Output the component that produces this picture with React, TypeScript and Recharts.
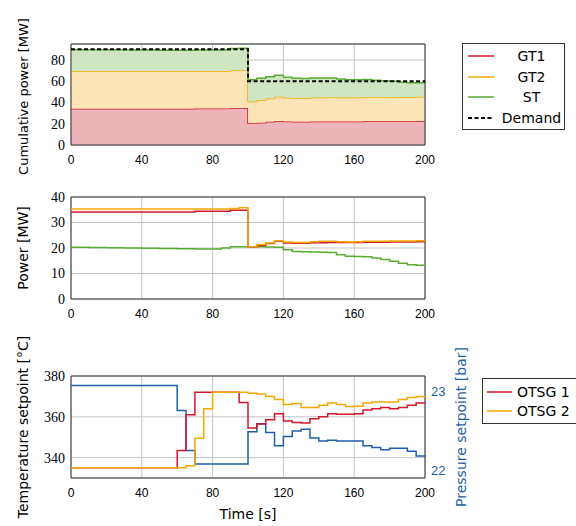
import React from 'react'
import {ComposedChart, Area, Line, XAxis, YAxis, CartesianGrid, ReferenceArea, Legend, Label} from 'recharts'

// time axis [s], 5 s steps
const time = [0, 5, 10, 15, 20, 25, 30, 35, 40, 45, 50, 55, 60, 65, 70, 75, 80, 85, 90, 95,
  100, 105, 110, 115, 120, 125, 130, 135, 140, 145, 150, 155, 160, 165, 170, 175, 180, 185, 190, 195, 200]

// unit powers [MW]
const gt1 = [34.1, 34.1, 34.1, 34.1, 34.1, 34.1, 34.1, 34.1, 34.1, 34.1, 34.1, 34.1, 34.1, 34.1, 34.4, 34.4, 34.4, 34.4, 34.8, 34.8,
  20.4, 21.0, 21.8, 22.6, 22.0, 21.9, 21.9, 22.1, 22.1, 22.2, 22.2, 22.2, 22.2, 22.3, 22.3, 22.3, 22.4, 22.4, 22.4, 22.5, 22.5]
const gt2 = [35.3, 35.3, 35.3, 35.3, 35.3, 35.3, 35.3, 35.3, 35.3, 35.3, 35.3, 35.3, 35.3, 35.3, 35.3, 35.3, 35.3, 35.3, 35.5, 35.8,
  20.5, 21.4, 22.0, 22.8, 22.4, 22.2, 22.2, 22.5, 22.6, 22.6, 22.5, 22.4, 22.5, 22.6, 22.6, 22.6, 22.7, 22.7, 22.7, 22.8, 22.8]
const st = [20.3, 20.3, 20.2, 20.2, 20.1, 20.1, 20.0, 20.0, 19.9, 19.9, 19.8, 19.8, 19.7, 19.7, 19.6, 19.6, 19.6, 20.0, 20.5, 20.5,
  20.5, 20.5, 20.4, 20.3, 19.3, 18.6, 18.5, 18.4, 18.3, 18.2, 17.4, 16.8, 16.7, 16.6, 16.1, 15.5, 14.8, 14.0, 13.4, 13.2, 12.9]
const demand = [90, 90, 90, 90, 90, 90, 90, 90, 90, 90, 90, 90, 90, 90, 90, 90, 90, 90, 90, 90,
  60, 60, 60, 60, 60, 60, 60, 60, 60, 60, 60, 60, 60, 60, 60, 60, 60, 60, 60, 60, 60]

// setpoints
const otsg1 = [335, 335, 335, 335, 335, 335, 335, 335, 335, 335, 335, 335, 343.5, 361, 372, 372, 372, 372, 372, 367,
  354.5, 356.5, 358.5, 361.5, 358, 357.2, 357, 359, 360, 361.5, 361.3, 361.3, 361.5, 363.3, 364, 364.6, 364, 364.6, 365.7, 366.8, 366.8]
const otsg2 = [335, 335, 335, 335, 335, 335, 335, 335, 335, 335, 335, 335, 335, 336, 349.5, 364, 372, 372, 372, 372,
  371.5, 371.2, 370, 368.5, 366, 366.5, 364.6, 364.5, 365.7, 366.8, 366, 365, 365.2, 366.8, 367.2, 367.3, 367.3, 368.5, 369.4, 370, 370]
const pressure = [23.08, 23.08, 23.08, 23.08, 23.08, 23.08, 23.08, 23.08, 23.08, 23.08, 23.08, 23.08, 22.76, 22.25, 22.08, 22.08, 22.08, 22.08, 22.08, 22.08,
  22.49, 22.59, 22.48, 22.31, 22.43, 22.50, 22.52, 22.41, 22.37, 22.38, 22.37, 22.37, 22.37, 22.31, 22.29, 22.26, 22.28, 22.28, 22.24, 22.18, 22.17]

const xTicks = [0, 40, 80, 120, 160, 200]
const cumTicks = [0, 20, 40, 60, 80]
const powerTicks = [0, 10, 20, 30, 40]
const tempTicks = [340, 360, 380]
const pressTicks = [22, 23]

const powerNames = ['GT1', 'GT2', 'ST', 'Demand']
const otsgNames = ['OTSG 1', 'OTSG 2']

const RED = '#d2182d'
const ORANGE = '#f5a800'
const GREEN = '#5aab32'
const BLUE = '#1f5fa8'
const GRID = '#c4c4c4'
const SANS = 'DejaVu Sans'

const powerRows = time.map((t, i) => ({t, gt1: gt1[i], gt2: gt2[i], st: st[i], demand: demand[i]}))
const setRows = time.map((t, i) => ({t, otsg1: otsg1[i], otsg2: otsg2[i], pressure: pressure[i]}))

const xTick = {fontFamily: 'Liberation Sans', fontSize: 12, fill: '#000'}
const yTick = {fontFamily: 'Liberation Serif', fontSize: 14, fill: '#000'}

// rotated axis title, centred on the plot height at a fixed x
const sideLabel = (text: string, x: number, color = '#000', size = 14, shift = 0) => (props: any) => {
  const vb = props.viewBox
  const cy = vb.y + vb.height / 2 + shift
  return (
    <text x={x} y={cy} transform={`rotate(-90 ${x} ${cy})`} textAnchor="middle" dominantBaseline="central"
      fontFamily={SANS} fontSize={size} fill={color}>{text}</text>
  )
}

const PowerLegend = () => {
  const colors = [RED, ORANGE, GREEN, '#000']
  return (
    <div style={{width: 103, height: 87, border: '1px solid #333', boxSizing: 'border-box', paddingTop: 2, background: '#fff'}}>
      {powerNames.map((n, i) => (
        <div key={n} style={{height: 20.5, display: 'flex', alignItems: 'center', fontFamily: SANS, fontSize: 14}}>
          <svg width={36} height={10}>
            <line x1={5} x2={31} y1={5} y2={5} stroke={colors[i]} strokeWidth={i === 3 ? 2 : 1.5} strokeDasharray={i === 3 ? '4 2.5' : undefined} />
          </svg>
          <span style={{flex: 1, textAlign: 'center'}}>{n}</span>
        </div>
      ))}
    </div>
  )
}

const OtsgLegend = () => {
  const colors = [RED, ORANGE]
  return (
    <div style={{width: 112, height: 46, border: '1px solid #333', boxSizing: 'border-box', paddingTop: 3, background: '#fff'}}>
      {otsgNames.map((n, i) => (
        <div key={n} style={{height: 19, display: 'flex', alignItems: 'center', fontFamily: SANS, fontSize: 14}}>
          <svg width={34} height={10}>
            <line x1={4} x2={29} y1={5} y2={5} stroke={colors[i]} strokeWidth={1.5} />
          </svg>
          <span>{n}</span>
        </div>
      ))}
    </div>
  )
}

export default function App() {
  return (
    <div style={{position: 'absolute', left: 0, top: 0, width: 576, height: 526, overflow: 'hidden', background: '#fff'}}>
      <div style={{position: 'absolute', left: 0, top: 0}}>
        <ComposedChart width={576} height={175} data={powerRows} margin={{top: 44, right: 151, bottom: 0, left: 0}}>
          <CartesianGrid stroke={GRID} />
          <XAxis dataKey="t" type="number" domain={[0, 200]} ticks={xTicks} tickLine={false} axisLine={false} height={30} tick={xTick} tickMargin={4} />
          <YAxis type="number" domain={[0, 95]} ticks={cumTicks} tickLine={false} axisLine={false} width={71} tick={yTick} tickMargin={0}
            allowDataOverflow label={<Label content={sideLabel('Cumulative power [MW]', 23, '#000', 13, 2)} />} />
          <Area type="stepAfter" dataKey="gt1" stackId="p" stroke={RED} strokeWidth={1.5} fill="#edb4ba" fillOpacity={1} isAnimationActive={false} dot={false} activeDot={false} />
          <Area type="stepAfter" dataKey="gt2" stackId="p" stroke={ORANGE} strokeWidth={1.5} fill="#fce4b6" fillOpacity={1} isAnimationActive={false} dot={false} activeDot={false} />
          <Area type="stepAfter" dataKey="st" stackId="p" stroke={GREEN} strokeWidth={1.5} fill="#d0e6c2" fillOpacity={1} isAnimationActive={false} dot={false} activeDot={false} />
          <Line type="stepAfter" dataKey="demand" stroke="#000" strokeWidth={2} strokeDasharray="4 2.5" isAnimationActive={false} dot={false} activeDot={false} />
          <ReferenceArea x1={0} x2={200} y1={0} y2={95} fill="none" stroke="#333" strokeWidth={1} ifOverflow="visible" />
          <Legend layout="vertical" align="center" verticalAlign="middle" content={() => <PowerLegend />}
            wrapperStyle={{position: 'absolute', left: 462, top: 43, width: 103, height: 87}} />
        </ComposedChart>
      </div>

      <div style={{position: 'absolute', left: 0, top: 175}}>
        <ComposedChart width={576} height={154} data={powerRows} margin={{top: 22, right: 151, bottom: 0, left: 0}}>
          <CartesianGrid stroke={GRID} />
          <XAxis dataKey="t" type="number" domain={[0, 200]} ticks={xTicks} tickLine={false} axisLine={false} height={30} tick={xTick} tickMargin={4} />
          <YAxis type="number" domain={[0, 40]} ticks={powerTicks} tickLine={false} axisLine={false} width={71} tick={yTick} tickMargin={0}
            label={<Label content={sideLabel('Power [MW]', 23)} />} />
          <Line type="stepAfter" dataKey="st" stroke={GREEN} strokeWidth={1.5} isAnimationActive={false} dot={false} activeDot={false} />
          <Line type="stepAfter" dataKey="gt1" stroke={RED} strokeWidth={1.5} isAnimationActive={false} dot={false} activeDot={false} />
          <Line type="stepAfter" dataKey="gt2" stroke={ORANGE} strokeWidth={1.5} isAnimationActive={false} dot={false} activeDot={false} />
          <ReferenceArea x1={0} x2={200} y1={0} y2={40} fill="none" stroke="#333" strokeWidth={1} ifOverflow="visible" />
        </ComposedChart>
      </div>

      <div style={{position: 'absolute', left: 0, top: 330}}>
        <ComposedChart width={576} height={196} data={setRows} margin={{top: 46, right: 101, bottom: 0, left: 0}}>
          <CartesianGrid stroke={GRID} yAxisId="left" />
          <XAxis dataKey="t" type="number" domain={[0, 200]} ticks={xTicks} tickLine={false} axisLine={false} height={48} tick={xTick} tickMargin={4}
            label={<Label content={(p: any) => (
              <text x={p.viewBox.x + p.viewBox.width / 2} y={p.viewBox.y + 36} textAnchor="middle" dominantBaseline="central"
                fontFamily={SANS} fontSize={14} fill="#000">Time [s]</text>
            )} />} />
          <YAxis yAxisId="left" type="number" domain={[330, 380]} ticks={tempTicks} tickLine={false} axisLine={false} width={71} tick={yTick} tickMargin={0}
            allowDataOverflow label={<Label content={sideLabel('Temperature setpoint [°C]', 23)} />} />
          <YAxis yAxisId="right" orientation="right" type="number" domain={[21.9, 23.2]} ticks={pressTicks} tickLine={false} axisLine={false} width={50}
            tick={{fontFamily: 'Liberation Sans', fontSize: 13, fill: BLUE}} tickMargin={0}
            allowDataOverflow label={<Label content={sideLabel('Pressure setpoint [bar]', 461, BLUE)} />} />
          <Line yAxisId="right" type="stepAfter" dataKey="pressure" stroke={BLUE} strokeWidth={1.5} isAnimationActive={false} dot={false} activeDot={false} />
          <Line yAxisId="left" type="stepAfter" dataKey="otsg1" stroke={RED} strokeWidth={1.5} isAnimationActive={false} dot={false} activeDot={false} />
          <Line yAxisId="left" type="stepAfter" dataKey="otsg2" stroke={ORANGE} strokeWidth={1.5} isAnimationActive={false} dot={false} activeDot={false} />
          <ReferenceArea yAxisId="left" x1={0} x2={200} y1={330} y2={380} fill="none" stroke="#333" strokeWidth={1} ifOverflow="visible" />
          <Legend layout="vertical" align="center" verticalAlign="middle" content={() => <OtsgLegend />}
            wrapperStyle={{position: 'absolute', left: 482, top: 48, width: 112, height: 46}} />
        </ComposedChart>
      </div>
    </div>
  )
}
